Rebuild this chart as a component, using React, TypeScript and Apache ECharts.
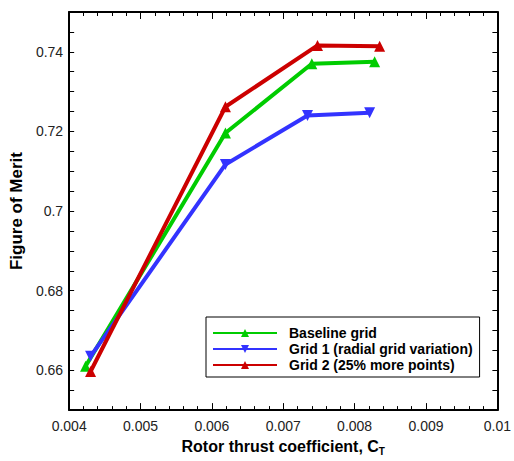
import React, { useEffect, useRef } from "react";
import * as echarts from "echarts";

const seriesNames = ["Baseline grid", "Grid 1 (radial grid variation)", "Grid 2 (25% more points)"];
const seriesColors = ["#00cc00", "#3333ff", "#cc0000"];

const baselineGrid: [number, number][] = [
  [0.00423, 0.661],
  [0.00619, 0.7196],
  [0.0074, 0.737],
  [0.00828, 0.7375],
];
const grid1: [number, number][] = [
  [0.0043, 0.6635],
  [0.00619, 0.7117],
  [0.00734, 0.724],
  [0.00821, 0.7247],
];
const grid2: [number, number][] = [
  [0.0043, 0.6597],
  [0.00619, 0.7262],
  [0.00748, 0.7416],
  [0.00835, 0.7414],
];

const yTickLabels = ["0.66", "0.68", "0.7", "0.72", "0.74"];

const FONT = "Liberation Sans, Arial, sans-serif";

export default function App() {
  const ref = useRef<HTMLDivElement>(null);
  useEffect(() => {
    if (!ref.current) return;
    const chart = echarts.init(ref.current, undefined, { renderer: "svg" });
    const mk = (idx: number, data: [number, number][], rotate: number) => ({
      type: "line",
      name: seriesNames[idx],
      data,
      symbol: "triangle",
      symbolSize: 11,
      symbolRotate: rotate,
      showAllSymbol: true,
      lineStyle: { color: seriesColors[idx], width: 4 },
      itemStyle: { color: seriesColors[idx] },
    });
    const yFormatter = (v: number) => {
      const s = String(Math.round(v * 1000) / 1000);
      return yTickLabels.indexOf(s) >= 0 ? s : "";
    };
    const xCommon = {
      type: "value",
      min: 0.004,
      max: 0.01,
      interval: 0.001,
      splitLine: { show: false },
      axisLine: { show: true, lineStyle: { color: "#000", width: 2 } },
      axisTick: { show: true, inside: true, length: 7 },
      minorTick: { show: true, splitNumber: 5, length: 4 },
    };
    const yCommon = {
      type: "value",
      min: 0.65,
      max: 0.75,
      interval: 0.005,
      splitLine: { show: false },
      axisLine: { show: true, lineStyle: { color: "#000", width: 2 } },
      axisTick: { show: true, inside: true, length: 5 },
    };
    chart.setOption({
      animation: false,
      grid: { left: 66, right: 13, top: 12, bottom: 44 },
      legend: {
        orient: "vertical",
        left: 206,
        top: 317,
        data: seriesNames,
        itemWidth: 64,
        itemHeight: 10,
        itemGap: 2,
        padding: [9, 7, 5, 6],
        borderColor: "#000",
        borderWidth: 1,
        backgroundColor: "#fff",
        textStyle: { fontSize: 14, fontWeight: "bold", color: "#000", fontFamily: FONT, lineHeight: 14, padding: [0, 0, 0, 7] },
      },
      xAxis: [
        {
          ...xCommon,
          position: "bottom",
          axisLabel: { show: true, fontSize: 14, color: "#222", fontFamily: FONT, margin: 9 },
          name: "Rotor thrust coefficient, C{sub|T}",
          nameLocation: "middle",
          nameGap: 20,
          nameTextStyle: {
            fontSize: 16,
            fontWeight: "bold",
            color: "#000",
            fontFamily: FONT,
            verticalAlign: "top",
            rich: {
              sub: { fontSize: 10, fontWeight: "bold", fontFamily: FONT, color: "#000", padding: [10, 0, 0, 0] },
            },
          },
        },
        { ...xCommon, position: "top", axisLabel: { show: false } },
      ],
      yAxis: [
        {
          ...yCommon,
          position: "left",
          axisLabel: { show: true, formatter: yFormatter, fontSize: 14, color: "#222", fontFamily: FONT, margin: 6 },
          name: "Figure of Merit",
          nameLocation: "middle",
          nameGap: 43,
          nameRotate: 90,
          nameTextStyle: { fontSize: 17, fontWeight: "bold", color: "#000", fontFamily: FONT },
        },
        { ...yCommon, position: "right", axisLabel: { show: false } },
      ],
      series: [mk(0, baselineGrid, 0), mk(1, grid1, 180), mk(2, grid2, 0)],
    });
    return () => chart.dispose();
  }, []);
  return <div ref={ref} style={{ position: "fixed", left: 0, top: 0, width: 514, height: 461, background: "#fff" }} />;
}
